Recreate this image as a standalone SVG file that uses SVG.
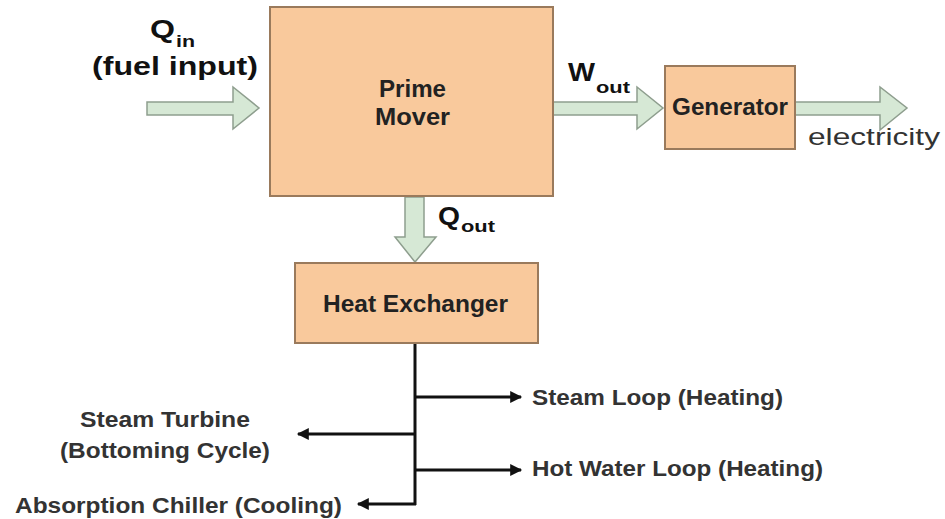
<svg xmlns="http://www.w3.org/2000/svg" width="945" height="519" viewBox="0 0 945 519">
<defs>
<style>
.box{fill:#F9C99C;stroke:#9A7A5C;stroke-width:2}
.flow{fill:#D6E8D5;stroke:#8E9E8E;stroke-width:1.5}
.lbl{font-family:"Liberation Sans",Arial,sans-serif;font-weight:bold;font-size:23px;fill:#222}
.big{font-family:"Liberation Sans",Arial,sans-serif;font-weight:bold;font-size:26px;fill:#111}
.sub{font-family:"Liberation Sans",Arial,sans-serif;font-weight:bold;font-size:17px;fill:#111}
.out{font-family:"Liberation Sans",Arial,sans-serif;font-weight:bold;font-size:22px;fill:#333}
.elec{font-family:"Liberation Sans",Arial,sans-serif;font-size:24px;fill:#333}
.line{stroke:#111;stroke-width:3;fill:none}
</style>
<marker id="ah" viewBox="0 0 10 10" refX="9" refY="5" markerWidth="5" markerHeight="4" orient="auto" markerUnits="strokeWidth">
<path d="M0,0 L10,5 L0,10 z" fill="#111"/>
</marker>
</defs>
<rect width="945" height="519" fill="#fff"/>

<g id="connectors">
<polygon class="flow" points="147,102 233,102 233,87 259,108 233,129 233,115 147,115"/>
<polygon class="flow" points="553,102 637,102 637,87 663,108 637,129 637,115 553,115"/>
<polygon class="flow" points="795,102 880,102 880,87 907,108 880,130 880,115 795,115"/>
<polygon class="flow" points="405,197 424,197 424,237 436,237 415,262 395,237 405,237"/>
<line class="line" x1="415" y1="343" x2="415" y2="505"/>
<line class="line" x1="414" y1="397" x2="521" y2="397" marker-end="url(#ah)"/>
<line class="line" x1="416" y1="434" x2="298" y2="434" marker-end="url(#ah)"/>
<line class="line" x1="414" y1="470" x2="521" y2="470" marker-end="url(#ah)"/>
<line class="line" x1="416" y1="504" x2="358" y2="504" marker-end="url(#ah)"/>
</g>

<g id="qin-label">
<text class="big" x="150" y="38" textLength="25" lengthAdjust="spacingAndGlyphs">Q</text>
<text class="sub" x="176" y="47" textLength="19" lengthAdjust="spacingAndGlyphs">in</text>
<text class="big" x="92" y="75" font-size="27" textLength="166" lengthAdjust="spacingAndGlyphs">(fuel input)</text>
</g>

<g id="prime-mover">
<rect class="box" x="270" y="7" width="283" height="189"/>
<text class="lbl" x="379" y="97" textLength="67" lengthAdjust="spacingAndGlyphs">Prime</text>
<text class="lbl" x="375" y="125" textLength="75" lengthAdjust="spacingAndGlyphs">Mover</text>
</g>

<g id="wout-label">
<text class="big" x="568" y="81" font-size="23" textLength="27" lengthAdjust="spacingAndGlyphs">W</text>
<text class="sub" x="596" y="93" font-size="16" textLength="34" lengthAdjust="spacingAndGlyphs">out</text>
</g>

<g id="generator">
<rect class="box" x="665" y="66" width="130" height="83"/>
<text class="lbl" x="672" y="115" font-size="21" textLength="116" lengthAdjust="spacingAndGlyphs">Generator</text>
</g>

<g id="electricity">
<text class="elec" x="808" y="145" textLength="132" lengthAdjust="spacingAndGlyphs">electricity</text>
</g>

<g id="qout-label">
<text class="big" x="438" y="225" font-size="24" textLength="22" lengthAdjust="spacingAndGlyphs">Q</text>
<text class="sub" x="461" y="232" font-size="16" textLength="34" lengthAdjust="spacingAndGlyphs">out</text>
</g>

<g id="heat-exchanger">
<rect class="box" x="295" y="263" width="243" height="80"/>
<text class="lbl" x="323" y="312" font-size="21" textLength="185" lengthAdjust="spacingAndGlyphs">Heat Exchanger</text>
</g>

<g id="steam-loop">
<text class="out" x="532" y="405" textLength="251" lengthAdjust="spacingAndGlyphs">Steam Loop (Heating)</text>
</g>

<g id="hot-water-loop">
<text class="out" x="532" y="476" textLength="291" lengthAdjust="spacingAndGlyphs">Hot Water Loop (Heating)</text>
</g>

<g id="steam-turbine">
<text class="out" x="80" y="427" textLength="170" lengthAdjust="spacingAndGlyphs">Steam Turbine</text>
<text class="out" x="60" y="458" textLength="210" lengthAdjust="spacingAndGlyphs">(Bottoming Cycle)</text>
</g>

<g id="absorption-chiller">
<text class="out" x="15" y="513" textLength="327" lengthAdjust="spacingAndGlyphs">Absorption Chiller (Cooling)</text>
</g>
</svg>
